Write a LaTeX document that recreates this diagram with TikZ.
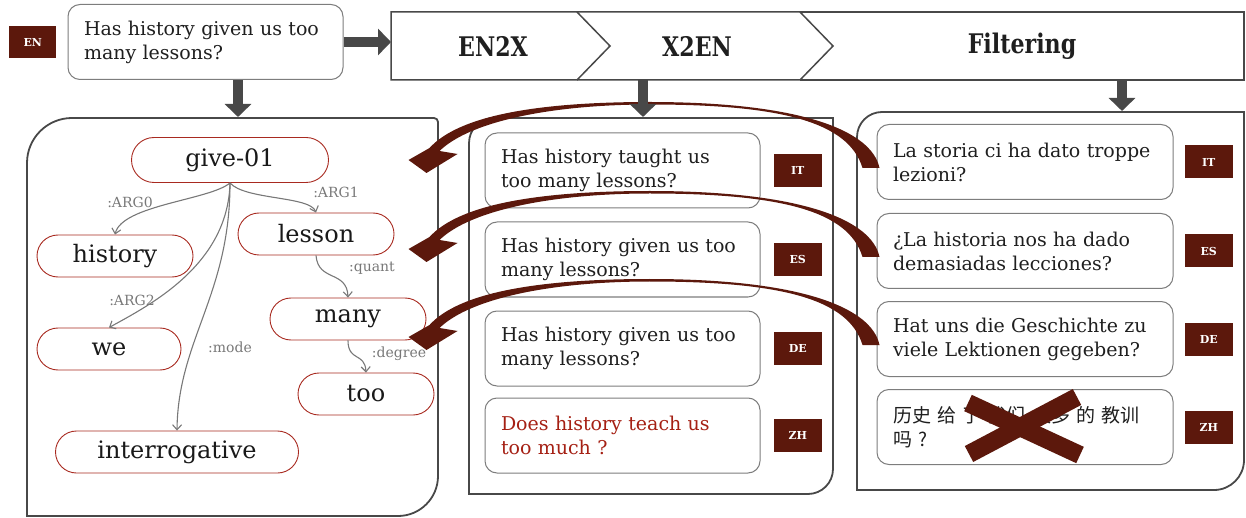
\documentclass[tikz,border=0pt]{standalone}
\usepackage{fontspec}
\usepackage{graphicx}
\setmainfont{DejaVu Serif}
\newfontfamily\cjkfont{Noto Sans CJK SC}
\usetikzlibrary{positioning,calc,arrows.meta,shapes.misc}

\definecolor{tagred}{RGB}{92,24,12}
\definecolor{amrred}{RGB}{168,42,32}
\definecolor{panelgray}{RGB}{72,72,72}
\definecolor{boxgray}{RGB}{125,125,125}
\definecolor{labgray}{RGB}{120,120,120}
\definecolor{badred}{RGB}{165,32,20}

\newcommand\stagename[1]{\scalebox{0.82}[1]{#1}}

\tikzset{
  panel/.style={draw=panelgray, line width=1.8pt},
  sent/.style={draw=boxgray, line width=1pt, rounded corners=12pt, fill=white,
    align=left, inner xsep=16pt, text width=243pt, minimum height=75pt,
    font=\fontsize{19}{24}\selectfont, text=black!88},
  sentwide/.style={sent, text width=264pt},
  tag/.style={fill=tagred, text=white, font=\bfseries\fontsize{11}{12}\selectfont,
    minimum width=48pt, minimum height=33pt, inner sep=0pt},
  amr/.style={rounded rectangle, draw=amrred, line width=0.9pt, minimum height=42pt,
    inner sep=0pt, font=\fontsize{24}{26}\selectfont, text=black!90},
  rel/.style={draw=labgray, line width=1.1pt, -{Straight Barb[length=5pt,width=9pt]}},
  lab/.style={text=labgray, font=\fontsize{14}{16}\selectfont, inner sep=1pt},
  stage/.style={font=\bfseries\fontsize{27}{28}\selectfont, text=black!88},
  blockarrow/.style={draw=panelgray, line width=10pt, -{Triangle[width=26pt,length=13pt]}},
  cross/.style={draw=tagred, line width=18pt},
  backarrow/.pic={
    \fill[tagred] (3,6) .. controls (-5,-32) and (-77,-60) .. (-227,-60)
      .. controls (-337,-60) and (-417,-47) .. (-447,-14)
      -- (-468,-2) -- (-450,11) -- (-419,-8) -- (-437,-11)
      .. controls (-405,-42) and (-320,-57.5) .. (-227,-57.5)
      .. controls (-95,-57.5) and (-28,-40) .. (-14,6) -- cycle;
  }
}

\begin{document}
\begin{tikzpicture}[x=1pt,y=-1pt]
\useasboundingbox (0,0) rectangle (1246,518);

% input sentence
\node[sent] (inp) at (205.5,42) {Has history given us too\\many lessons?};
\node[tag, minimum width=47pt, minimum height=32pt, left=11pt of inp] (enTag) {EN};

% pipeline header
\draw[line width=1.5pt, draw=panelgray] (391,12) -- (577,12) -- (610,46) -- (577,80) -- (391,80) -- cycle;
\draw[line width=1.5pt, draw=panelgray] (577,12) -- (800,12) -- (833,46) -- (800,80) -- (577,80);
\draw[line width=1.5pt, draw=panelgray] (800,12) -- (1244,12) -- (1244,80) -- (800,80);
\node[stage] (en2x) at (493,46) {\stagename{EN2X}};
\node[stage] (x2en) at (697,46) {\stagename{X2EN}};
\node[stage] (filt) at (1022,46) {\stagename{Filtering}};

% panels
\draw[panel] (27,516) -- (27,163) arc[start angle=180,end angle=270,radius=45]
  -- (434,118) arc[start angle=270,end angle=360,radius=4]
  -- (438,476) arc[start angle=0,end angle=90,radius=40] -- cycle;
\draw[panel] (469,494) -- (469,143) arc[start angle=180,end angle=270,radius=25]
  -- (833,118) -- (833,469) arc[start angle=0,end angle=90,radius=25] -- cycle;
\draw[panel] (857,490) -- (857,137) arc[start angle=180,end angle=270,radius=25]
  -- (1244,112) -- (1244,460) arc[start angle=0,end angle=90,radius=30] -- cycle;

% AMR graph
\node[amr, minimum width=197pt, minimum height=45pt] (give) at (230,160) {give-01};
\node[amr, minimum width=156pt] (history) at (115,256) {history};
\node[amr, minimum width=156pt] (lesson) at (316,234) {lesson};
\node[amr, minimum width=156pt] (many) at (348,319) {many};
\node[amr, minimum width=144pt] (we) at (109,349) {we};
\node[amr, minimum width=136pt] (too) at (366,394) {too};
\node[amr, minimum width=243pt] (interr) at (177,452) {interrogative};

\draw[rel] (give.south) .. controls (210,200) and (122,205) .. (history.north);
\draw[rel] (give.south) .. controls (245,200) and (310,196) .. (lesson.north);
\draw[rel] (give.south) .. controls (228,265) and (150,305) .. (we.north);
\draw[rel] (give.south) .. controls (230,295) and (178,340) .. (interr.north);
\draw[rel] (lesson.south) .. controls (318,282) and (347,270) .. (many.north);
\draw[rel] (many.south) .. controls (348,362) and (365,352) .. (too.north);

\node[lab] (l0) at (130,202) {:ARG0};
\node[lab] (l1) at (336,192) {:ARG1};
\node[lab] (l2) at (132,300) {:ARG2};
\node[lab] (lm) at (230,347) {:mode};
\node[lab] (lq) at (372,268) {:quant};
\node[lab] (ld) at (399,354) {:degree};

% round trip outputs
\node[sent] (itM) at (622.5,170.5) {Has history taught us\\too many lessons?};
\node[sent, below=13pt of itM] (esM) {Has history given us too\\many lessons?};
\node[sent, below=13pt of esM] (deM) {Has history given us too\\many lessons?};
\node[sent, below=11pt of deM, text=badred] (zhM) {Does history teach us\\too much ?};
\node[tag, right=13pt of itM] (itTagM) {IT};
\node[tag, right=13pt of esM] (esTagM) {ES};
\node[tag, right=13pt of deM] (deTagM) {DE};
\node[tag, right=13pt of zhM] (zhTagM) {ZH};

% translations
\node[sentwide] (itR) at (1025,162) {La storia ci ha dato troppe\\lezioni?};
\node[sentwide, below=13pt of itR] (esR) {¿La historia nos ha dado\\demasiadas lecciones?};
\node[sentwide, below=12pt of esR] (deR) {Hat uns die Geschichte zu\\viele Lektionen gegeben?};
\node[sentwide, below=12pt of deR, font=\cjkfont\fontsize{19}{24}\selectfont] (zhR) {历史 给 了 我们 太多 的 教训\\吗 ?};
\node[tag, right=11pt of itR] (itTagR) {IT};
\node[tag, right=11pt of esR] (esTagR) {ES};
\node[tag, right=11pt of deR] (deTagR) {DE};
\node[tag, right=11pt of zhR] (zhTagR) {ZH};

% filtered out
\draw[cross] ($(zhR.center)+(-57,-24)$) -- ($(zhR.center)+(55,28)$);
\draw[cross] ($(zhR.center)+(52,-30)$) -- ($(zhR.center)+(-56,27)$);

% back to the graph
\pic at (itR.west) {backarrow};
\pic at (esR.west) {backarrow};
\pic at (deR.west) {backarrow};

% flow
\coordinate (hdrin) at (391,42);
\coordinate (amrin) at (238,117);
\coordinate (midtop) at (643,80);
\coordinate (midin) at (643,117);
\coordinate (filttop) at (1122,80);
\coordinate (filtin) at (1122,111);
\draw[blockarrow] (inp.east) -- (hdrin);
\draw[blockarrow] (inp.south -| amrin) -- (amrin);
\draw[blockarrow] (midtop) -- (midin);
\draw[blockarrow] (filttop) -- (filtin);
\end{tikzpicture}
\end{document}
